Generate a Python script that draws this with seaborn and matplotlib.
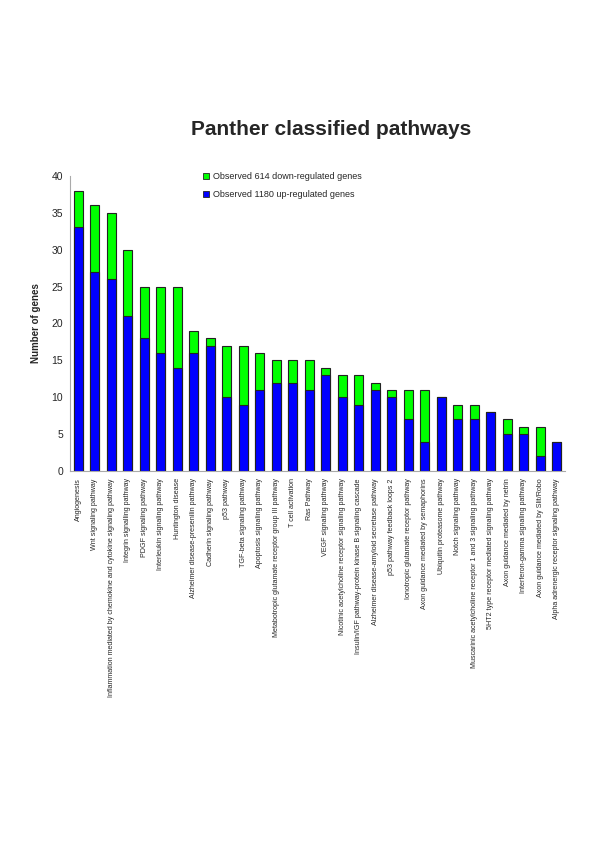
import pandas as pd
import seaborn as sns
import matplotlib.pyplot as plt
import numpy as np

# pathway names and counts
pathways = [
    "Angiogenesis",
    "Wnt signaling pathway",
    "Inflammation mediated by chemokine and cytokine signaling pathway",
    "Integrin signalling pathway",
    "PDGF signaling pathway",
    "Interleukin signaling pathway",
    "Huntington disease",
    "Alzheimer disease-presenilin pathway",
    "Cadherin signaling pathway",
    "p53 pathway",
    "TGF-beta signaling pathway",
    "Apoptosis signaling pathway",
    "Metabotropic glutamate receptor group III pathway",
    "T cell activation",
    "Ras Pathway",
    "VEGF signaling pathway",
    "Nicotinic acetylcholine receptor signaling pathway",
    "Insulin/IGF pathway-protein kinase B signaling cascade",
    "Alzheimer disease-amyloid secretase pathway",
    "p53 pathway feedback loops 2",
    "Ionotropic glutamate receptor pathway",
    "Axon guidance mediated by semaphorins",
    "Ubiquitin proteasome pathway",
    "Notch signaling pathway",
    "Muscarinic acetylcholine receptor 1 and 3 signaling pathway",
    "5HT2 type receptor mediated signaling pathway",
    "Axon guidance mediated by netrin",
    "Interferon-gamma signaling pathway",
    "Axon guidance mediated by Slit/Robo",
    "Alpha adrenergic receptor signaling pathway",
]
up_genes = [33, 27, 26, 21, 18, 16, 14, 16, 17, 10, 9, 11, 12, 12, 11,
            13, 10, 9, 11, 10, 7, 4, 10, 7, 7, 8, 5, 5, 2, 4]
down_genes = [5, 9, 9, 9, 7, 9, 11, 3, 1, 7, 8, 5, 3, 3, 4,
              1, 3, 4, 1, 1, 4, 7, 0, 2, 2, 0, 2, 1, 4, 0]

df = pd.DataFrame({"pathway": pathways, "up": up_genes, "down": down_genes})
df["total"] = df["up"] + df["down"]

GREEN = "#00FF00"
BLUE = "#0000FF"

sns.set_style("white")
plt.rcParams["font.family"] = ["Liberation Sans", "DejaVu Sans"]

fig = plt.figure(figsize=(6, 8.49), dpi=100)
ax = fig.add_axes([0.117, 0.445, 0.825, 0.348])

# stacked: total in green, up-regulated in blue on top
sns.barplot(data=df, x="pathway", y="total", color=GREEN, width=0.55,
            edgecolor="#222222", linewidth=0.8, saturation=1, ax=ax)
sns.barplot(data=df, x="pathway", y="up", color=BLUE, width=0.55,
            edgecolor="#222222", linewidth=0.8, saturation=1, ax=ax)

ax.set_xlim(-0.5, len(pathways) - 0.5)
ax.set_ylim(0, 40)
ax.set_yticks(range(0, 41, 5))
ax.tick_params(axis="y", labelsize=7.5, length=0, pad=5)
ax.set_xticks(range(len(pathways)))
ax.set_xticklabels(pathways, rotation=90, fontsize=5.1)
ax.tick_params(axis="x", which="major", length=0, pad=5)
ax.set_xticks(np.arange(-0.5, len(pathways), 1), minor=True)
ax.tick_params(axis="x", which="minor", length=3, color="#bbbbbb", width=0.6)

ax.set_xlabel("")
ax.set_ylabel("Number of genes", fontsize=7, fontweight="bold", labelpad=8)
for side in ["top", "right"]:
    ax.spines[side].set_visible(False)
for side in ["left", "bottom"]:
    ax.spines[side].set_color("#aaaaaa")
    ax.spines[side].set_linewidth(0.8)

fig.text(0.552, 0.847, "Panther classified pathways", ha="center", va="center",
         fontsize=15, fontweight="bold")

handles = [
    plt.Rectangle((0, 0), 1, 1, facecolor=GREEN, edgecolor="#222222", lw=0.6),
    plt.Rectangle((0, 0), 1, 1, facecolor=BLUE, edgecolor="#222222", lw=0.6),
]
fig.legend(handles, ["Observed 614 down-regulated genes",
                     "Observed 1180 up-regulated genes"],
           loc="upper left", bbox_to_anchor=(0.325, 0.807), frameon=False,
           fontsize=6.5, handlelength=0.7, handleheight=0.7,
           handletextpad=0.4, labelspacing=1.0)

fig.savefig("out.png", dpi=100)
